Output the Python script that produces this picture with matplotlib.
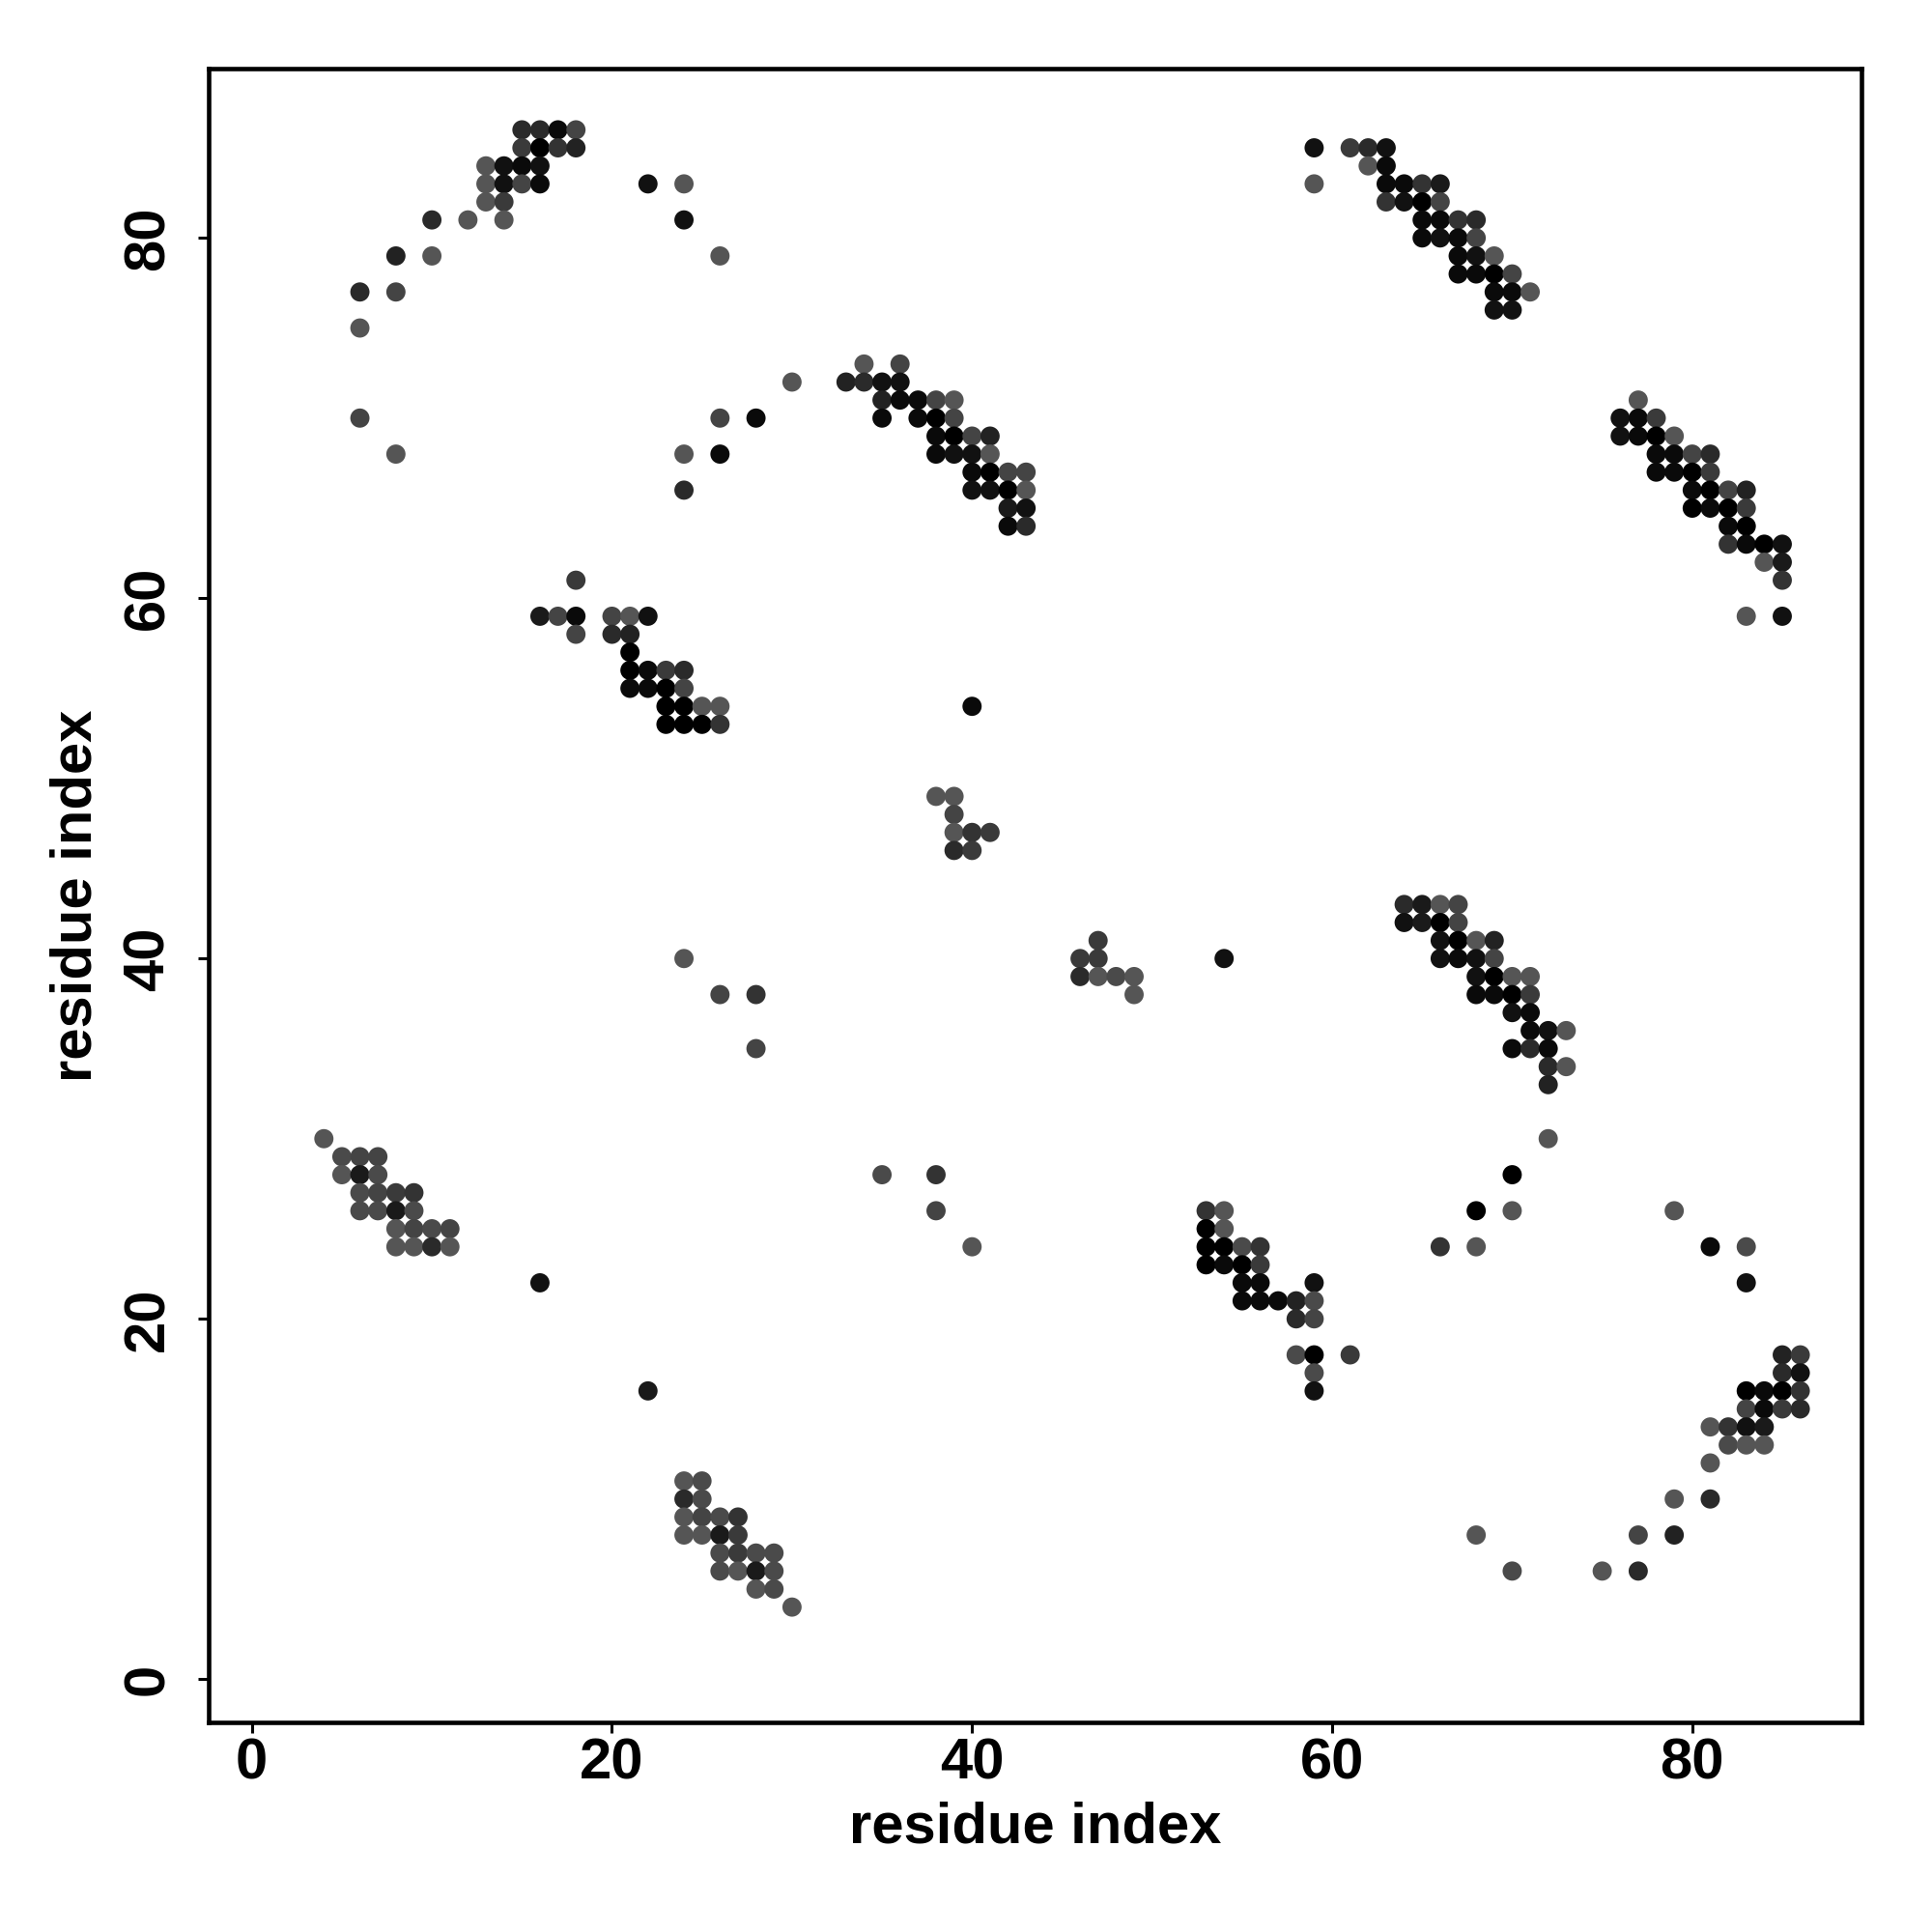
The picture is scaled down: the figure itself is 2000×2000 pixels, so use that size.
import matplotlib
matplotlib.use('Agg')
import matplotlib.pyplot as plt

# contact map: residue i (x), residue j (y), grey shade of the dot (0 = black, 0x55 = mid grey)
res_i = [
    15, 16, 17, 18,                                   # y 86
    15, 16, 17, 18, 59, 61, 62, 63,                   # y 85
    13, 14, 15, 16, 62, 63,                           # y 84
    13, 14, 15, 16, 22, 24, 59, 63, 64, 65, 66,       # y 83
    13, 14, 63, 64, 65, 66,                           # y 82
    10, 12, 14, 24, 65, 66, 67, 68,                   # y 81
    65, 66, 67, 68,                                   # y 80
    8, 10, 26, 67, 68, 69,                            # y 79
    67, 68, 69, 70,                                   # y 78
    6, 8, 69, 70, 71,                                 # y 77
    69, 70,                                           # y 76
    6,                                                # y 75
    34, 36,                                           # y 73
    30, 33, 34, 35, 36,                               # y 72
    35, 36, 37, 38, 39, 77,                           # y 71
    6, 26, 28, 35, 37, 38, 39, 76, 77, 78,            # y 70
    38, 39, 40, 41, 76, 77, 78, 79,                   # y 69
    8, 24, 26, 38, 39, 40, 41, 78, 79, 80, 81,        # y 68
    40, 41, 42, 43, 78, 79, 80, 81,                   # y 67
    24, 40, 41, 42, 43, 80, 81, 82, 83,               # y 66
    42, 43, 80, 81, 82, 83,                           # y 65
    42, 43, 82, 83,                                   # y 64
    82, 83, 84, 85,                                   # y 63
    84, 85,                                           # y 62
    18, 85,                                           # y 61
    16, 17, 18, 20, 21, 22, 83, 85,                   # y 59
    18, 20, 21,                                       # y 58
    21,                                               # y 57
    21, 22, 23, 24,                                   # y 56
    21, 22, 23, 24,                                   # y 55
    23, 24, 25, 26, 40,                               # y 54
    23, 24, 25, 26,                                   # y 53
    38, 39,                                           # y 49
    39,                                               # y 48
    39, 40, 41,                                       # y 47
    39, 40,                                           # y 46
    64, 65, 66, 67,                                   # y 43
    64, 65, 66, 67,                                   # y 42
    47, 66, 67, 68, 69,                               # y 41
    24, 46, 47, 54, 66, 67, 68, 69,                   # y 40
    46, 47, 48, 49, 68, 69, 70, 71,                   # y 39
    26, 28, 49, 68, 69, 70, 71,                       # y 38
    70, 71,                                           # y 37
    71, 72, 73,                                       # y 36
    28, 70, 71, 72,                                   # y 35
    72, 73,                                           # y 34
    72,                                               # y 33
    4, 72,                                            # y 30
    5, 6, 7,                                          # y 29
    5, 6, 7, 35, 38, 70,                              # y 28
    6, 7, 8, 9,                                       # y 27
    6, 7, 8, 9, 38, 53, 54, 68, 70, 79,               # y 26
    8, 9, 10, 11, 53, 54,                             # y 25
    8, 9, 10, 11, 40, 53, 54, 55, 56, 66, 68, 81, 83, # y 24
    53, 54, 55, 56,                                   # y 23
    16, 55, 56, 59, 83,                               # y 22
    55, 56, 57, 58, 59,                               # y 21
    58, 59,                                           # y 20
    58, 59, 61, 85, 86,                               # y 18
    59, 85, 86,                                       # y 17
    22, 59, 83, 84, 85, 86,                           # y 16
    83, 84, 85, 86,                                   # y 15
    81, 82, 83, 84,                                   # y 14
    82, 83, 84,                                       # y 13
    81,                                               # y 12
    24, 25,                                           # y 11
    24, 25, 79, 81,                                   # y 10
    24, 25, 26, 27,                                   # y 9
    24, 25, 26, 27, 68, 77, 79,                       # y 8
    26, 27, 28, 29,                                   # y 7
    26, 27, 28, 29, 70, 75, 77,                       # y 6
    28, 29,                                           # y 5
    30,                                               # y 4
]

row_y = [86, 85, 84, 83, 82, 81, 80, 79, 78, 77, 76, 75, 73, 72, 71, 70, 69, 68,
         67, 66, 65, 64, 63, 62, 61, 59, 58, 57, 56, 55, 54, 53, 49, 48, 47, 46,
         43, 42, 41, 40, 39, 38, 37, 36, 35, 34, 33, 30, 29, 28, 27, 26, 25, 24,
         23, 22, 21, 20, 18, 17, 16, 15, 14, 13, 12, 11, 10, 9, 8, 7, 6, 5, 4]
row_count = [4, 8, 6, 11, 6, 8, 4, 6, 4, 5, 2, 1, 2, 5, 6, 10, 8, 11,
             8, 9, 6, 4, 4, 2, 2, 8, 3, 1, 4, 4, 5, 4, 2, 1, 3, 2,
             4, 4, 5, 8, 8, 7, 2, 3, 4, 2, 1, 2, 3, 6, 4, 10, 6, 13,
             4, 5, 5, 2, 5, 3, 6, 4, 4, 3, 1, 2, 4, 4, 7, 4, 7, 2, 1]

shade = [
    0x2a, 0x2a, 0x0a, 0x44,
    0x3a, 0x00, 0x33, 0x22, 0x11, 0x3a, 0x2a, 0x11,
    0x55, 0x11, 0x0a, 0x11, 0x55, 0x0a,
    0x55, 0x11, 0x44, 0x0a, 0x11, 0x55, 0x55, 0x0a, 0x0a, 0x33, 0x1a,
    0x55, 0x3a, 0x33, 0x11, 0x00, 0x44,
    0x2a, 0x55, 0x55, 0x11, 0x0a, 0x0a, 0x33, 0x2a,
    0x0a, 0x11, 0x0a, 0x44,
    0x22, 0x55, 0x55, 0x0a, 0x11, 0x55,
    0x0a, 0x0a, 0x00, 0x44,
    0x2a, 0x44, 0x0a, 0x0a, 0x55,
    0x11, 0x11,
    0x55,
    0x55, 0x44,
    0x55, 0x22, 0x2a, 0x11, 0x11,
    0x22, 0x0a, 0x0a, 0x44, 0x55, 0x55,
    0x44, 0x44, 0x0a, 0x0a, 0x0a, 0x00, 0x44, 0x11, 0x0a, 0x3a,
    0x0a, 0x00, 0x44, 0x22, 0x11, 0x0a, 0x00, 0x55,
    0x55, 0x55, 0x0a, 0x0a, 0x11, 0x11, 0x55, 0x0a, 0x0a, 0x44, 0x2a,
    0x0a, 0x00, 0x44, 0x44, 0x0a, 0x0a, 0x00, 0x3a,
    0x2a, 0x11, 0x11, 0x00, 0x55, 0x0a, 0x00, 0x44, 0x22,
    0x1a, 0x11, 0x00, 0x0a, 0x00, 0x3a,
    0x0a, 0x2a, 0x0a, 0x00,
    0x33, 0x0a, 0x00, 0x11,
    0x55, 0x1a,
    0x3a, 0x33,
    0x1a, 0x44, 0x0a, 0x44, 0x55, 0x11, 0x55, 0x11,
    0x44, 0x2a, 0x22,
    0x00,
    0x00, 0x0a, 0x3a, 0x2a,
    0x0a, 0x0a, 0x00, 0x44,
    0x00, 0x00, 0x55, 0x55, 0x0a,
    0x00, 0x00, 0x00, 0x33,
    0x55, 0x55,
    0x44,
    0x55, 0x33, 0x3a,
    0x2a, 0x3a,
    0x2a, 0x1a, 0x55, 0x44,
    0x11, 0x1a, 0x00, 0x44,
    0x3a, 0x11, 0x00, 0x55, 0x22,
    0x55, 0x3a, 0x3a, 0x11, 0x11, 0x0a, 0x11, 0x44,
    0x2a, 0x55, 0x4a, 0x55, 0x11, 0x00, 0x55, 0x55,
    0x44, 0x33, 0x55, 0x0a, 0x0a, 0x00, 0x3a,
    0x11, 0x0a,
    0x0a, 0x11, 0x55,
    0x44, 0x0a, 0x2a, 0x0a,
    0x2a, 0x55,
    0x22,
    0x55, 0x55,
    0x4a, 0x44, 0x44,
    0x55, 0x1a, 0x4a, 0x4a, 0x33, 0x00,
    0x4a, 0x44, 0x3a, 0x33,
    0x4a, 0x4a, 0x1a, 0x4a, 0x44, 0x33, 0x55, 0x00, 0x55, 0x55,
    0x55, 0x44, 0x4a, 0x44, 0x00, 0x55,
    0x55, 0x55, 0x2a, 0x55, 0x55, 0x00, 0x00, 0x4a, 0x33, 0x33, 0x55, 0x0a, 0x4a,
    0x00, 0x0a, 0x00, 0x3a,
    0x11, 0x0a, 0x0a, 0x11, 0x11,
    0x0a, 0x0a, 0x0a, 0x22, 0x4a,
    0x2a, 0x44,
    0x4a, 0x00, 0x3a, 0x22, 0x3a,
    0x4a, 0x2a, 0x11,
    0x1a, 0x11, 0x00, 0x0a, 0x00, 0x33,
    0x44, 0x0a, 0x3a, 0x2a,
    0x55, 0x33, 0x11, 0x1a,
    0x4a, 0x55, 0x55,
    0x55,
    0x55, 0x4a,
    0x2a, 0x4a, 0x55, 0x2a,
    0x55, 0x44, 0x4a, 0x33,
    0x55, 0x55, 0x1a, 0x3a, 0x55, 0x44, 0x22,
    0x4a, 0x3a, 0x4a, 0x4a,
    0x4a, 0x55, 0x1a, 0x4a, 0x4a, 0x55, 0x2a,
    0x55, 0x4a,
    0x55,
]

res_j = []
for yv, n in zip(row_y, row_count):
    res_j.extend([yv] * n)

colors = ['#%02x%02x%02x' % (s, s, s) for s in shade]

plt.rcParams['font.family'] = ['Liberation Sans', 'DejaVu Sans']
plt.rcParams['font.weight'] = 'bold'

fig = plt.figure(figsize=(20, 20), dpi=100)
ax = fig.add_axes([0.108, 0.1085, 0.8555, 0.856])

ax.scatter(res_i, res_j, s=205, c=colors, linewidths=0)

ax.set_xlim(-2.4, 89.4)
ax.set_ylim(-2.4, 89.4)
ax.set_xticks([0, 20, 40, 60, 80])
ax.set_yticks([0, 20, 40, 60, 80])

for sp in ax.spines.values():
    sp.set_linewidth(3.3)

ax.tick_params(axis='both', direction='out', length=8, width=2.2, labelsize=43)
ax.tick_params(axis='x', pad=3)
ax.tick_params(axis='y', pad=17)
for lab in ax.get_yticklabels():
    lab.set_rotation(90)
    lab.set_va('center')
for lab in ax.get_xticklabels() + ax.get_yticklabels():
    lab.set_fontweight('bold')

ax.set_xlabel('residue index', fontsize=43, fontweight='bold')
ax.set_ylabel('residue index', fontsize=43, fontweight='bold')
ax.xaxis.set_label_coords(0.5, -0.0637)
ax.xaxis.label.set_va('center')
ax.yaxis.set_label_coords(-0.080, 0.5)
ax.yaxis.label.set_va('center')

fig.savefig('out.png', dpi=100)
